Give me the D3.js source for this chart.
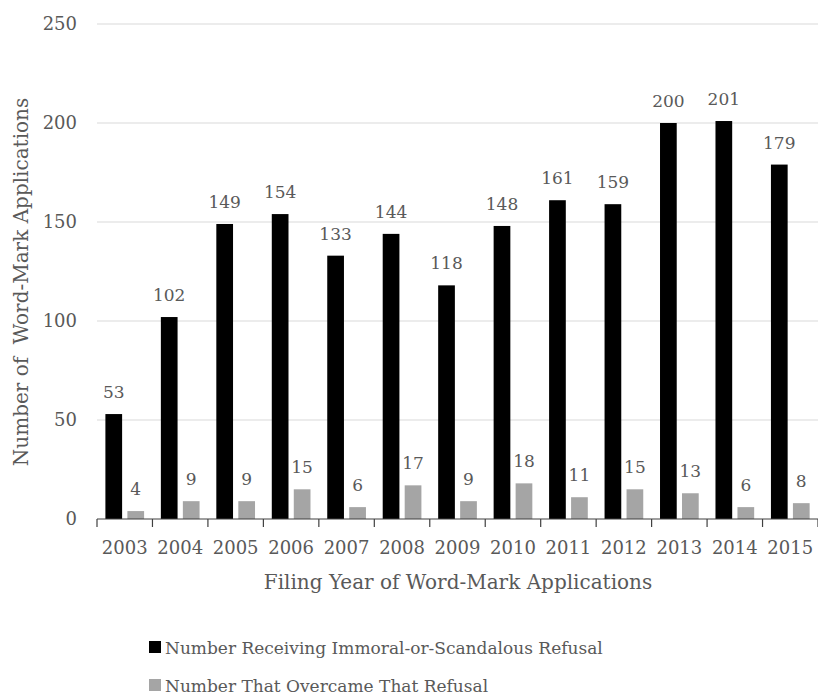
<!DOCTYPE html>
<html>
<head>
<meta charset="utf-8">
<script src="https://cdn.jsdelivr.net/npm/d3@7"></script>
<style>
	body { margin: 0; background: #fff; }
	text { font-family: "DejaVu Serif", serif; fill: #595959; }
</style>
</head>
<body>
<div id="chart"></div>
<script>
const years = ["2003", "2004", "2005", "2006", "2007", "2008", "2009", "2010", "2011", "2012", "2013", "2014", "2015"];
const refused = [53, 102, 149, 154, 133, 144, 118, 148, 161, 159, 200, 201, 179];
const overcame = [4, 9, 9, 15, 6, 17, 9, 18, 11, 15, 13, 6, 8];
const seriesNames = ["Number Receiving Immoral-or-Scandalous Refusal", "Number That Overcame That Refusal"];
const seriesColors = ["#000000", "#a5a5a5"];
const yTicks = [0, 50, 100, 150, 200, 250];

const width = 818, height = 698;

const svg = d3.select("#chart").append("svg")
	.attr("width", width)
	.attr("height", height);

const x0 = d3.scaleBand().domain(years).range([97, 818]).padding(0);
const x1 = d3.scaleBand().domain([0, 1]).range([8.4, 47.1]).paddingInner(0.24);
const y = d3.scaleLinear().domain([0, 250]).range([519, 24]);

// gridlines
svg.append("g")
	.selectAll("line")
	.data(yTicks.filter(d => d > 0))
	.join("line")
	.attr("x1", 97).attr("x2", width)
	.attr("y1", d => y(d)).attr("y2", d => y(d))
	.attr("stroke", "#d9d9d9")
	.attr("stroke-width", 1);

// y tick labels
svg.append("g")
	.selectAll("text")
	.data(yTicks)
	.join("text")
	.attr("x", 77)
	.attr("y", d => y(d))
	.attr("dy", "0.35em")
	.attr("text-anchor", "end")
	.style("font-size", "18px")
	.text(d => d);

// bars
const rows = years.map((yr, i) => ({ year: yr, vals: [refused[i], overcame[i]] }));
const groups = svg.append("g")
	.selectAll("g")
	.data(rows)
	.join("g")
	.attr("transform", d => `translate(${x0(d.year)},0)`);

groups.selectAll("rect")
	.data(d => d.vals.map((v, k) => ({ k, v })))
	.join("rect")
	.attr("x", d => x1(d.k))
	.attr("width", x1.bandwidth())
	.attr("y", d => y(d.v))
	.attr("height", d => y(0) - y(d.v))
	.attr("fill", d => seriesColors[d.k]);

groups.selectAll("text")
	.data(d => d.vals.map((v, k) => ({ k, v })))
	.join("text")
	.attr("x", d => x1(d.k) + x1.bandwidth() / 2)
	.attr("y", d => y(d.v) - 16)
	.attr("text-anchor", "middle")
	.style("font-size", "17px")
	.text(d => d.v);

// x axis
const xAxis = svg.append("g").attr("transform", `translate(0,${y(0)})`);
xAxis.append("line")
	.attr("x1", 97).attr("x2", width)
	.attr("stroke", "#404040").attr("stroke-width", 1.2);
xAxis.selectAll("line.tick")
	.data(years.concat(["end"]))
	.join("line")
	.attr("class", "tick")
	.attr("x1", (d, i) => 97 + i * x0.step())
	.attr("x2", (d, i) => 97 + i * x0.step())
	.attr("y1", 0).attr("y2", 8)
	.attr("stroke", "#404040").attr("stroke-width", 1.2);
xAxis.selectAll("text")
	.data(years)
	.join("text")
	.attr("x", d => x0(d) + x0.bandwidth() / 2)
	.attr("y", 35)
	.attr("text-anchor", "middle")
	.style("font-size", "18px")
	.text(d => d);

// axis titles
svg.append("text")
	.attr("x", 458)
	.attr("y", 589)
	.attr("text-anchor", "middle")
	.style("font-size", "20px")
	.text("Filing Year of Word-Mark Applications");

svg.append("text")
	.attr("transform", "translate(28,282) rotate(-90)")
	.attr("text-anchor", "middle")
	.style("font-size", "20px")
	.style("white-space", "pre")
	.text("Number of  Word-Mark Applications");

// legend
const legend = svg.append("g")
	.selectAll("g")
	.data(seriesNames)
	.join("g")
	.attr("transform", (d, i) => `translate(149,${654 + i * 38})`);
legend.append("rect")
	.attr("x", 0).attr("y", -13)
	.attr("width", 12).attr("height", 12)
	.attr("fill", (d, i) => seriesColors[i]);
legend.append("text")
	.attr("x", 16)
	.style("font-size", "17px")
	.text(d => d);
</script>
</body>
</html>
